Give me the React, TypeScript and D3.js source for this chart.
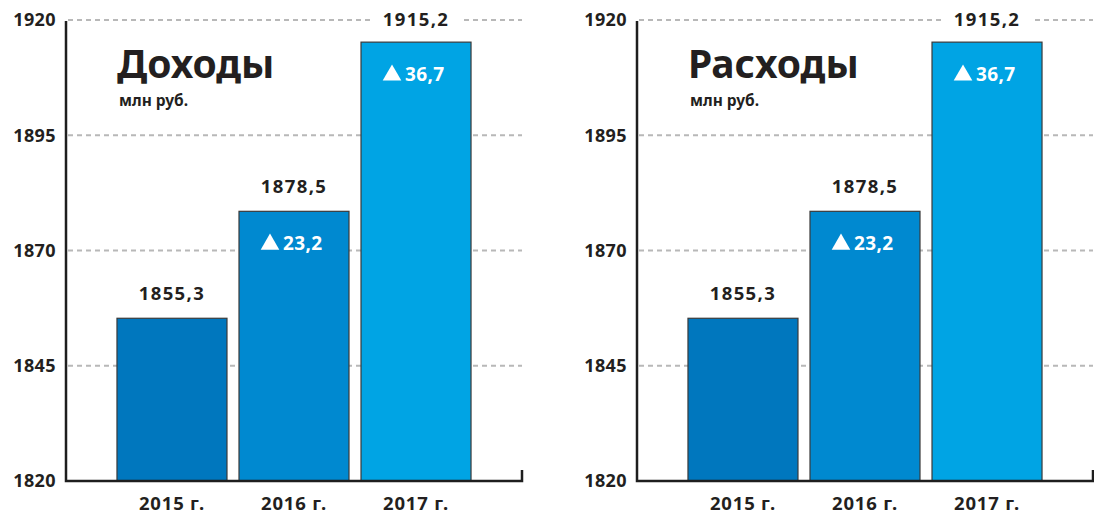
import React from "react";
import * as d3 from "d3";

const years = ["2015 г.", "2016 г.", "2017 г."];
const incomeValues = [1855.3, 1878.5, 1915.2];
const expenseValues = [1855.3, 1878.5, 1915.2];
const incomeDeltas = [null, "23,2", "36,7"];
const expenseDeltas = [null, "23,2", "36,7"];
const yTicks = [1820, 1845, 1870, 1895, 1920];
const barColors = ["#0077be", "#0089d0", "#00a4e4"];
const panelTitles = ["Доходы", "Расходы"];
const unitLabel = "млн руб.";

const W = 1094;
const H = 515;
const FONT = "'Noto Sans', 'Open Sans', sans-serif";
const TEXT = "#231f20";

const fmt = (v: number) => v.toFixed(1).replace(".", ",");

function Panel({ offsetX, title, values, deltas }: { offsetX: number; title: string; values: number[]; deltas: (string | null)[] }) {
  const axisX = 66;
  const rightX = 522;
  const y = d3.scaleLinear().domain([1820, 1920]).range([481, 20]);
  const x = d3.scaleBand<string>().domain(years).range([111, 477]).paddingInner(0.0984).paddingOuter(0.049);
  const tri = d3.symbol().type(d3.symbolTriangle).size(150)();
  return (
    <g transform={`translate(${offsetX},0)`}>
      {yTicks.slice(1).map((t) => (
        <line key={t} x1={axisX + 2} x2={rightX} y1={y(t)} y2={y(t)} stroke="#b8b8b8" strokeWidth={2} strokeDasharray="5,4" />
      ))}
      {yTicks.map((t) => (
        <text key={t} x={56} y={y(t)} dy="0.35em" textAnchor="end" fontFamily={FONT} fontWeight={700} fontSize={18} letterSpacing={0.4} fill={TEXT}>{t}</text>
      ))}
      <text x={117} y={78} fontFamily={FONT} fontWeight={700} fontSize={39} fill={TEXT}>{title}</text>
      <text x={119} y={106} fontFamily={FONT} fontWeight={700} fontSize={15.5} fill={TEXT}>{unitLabel}</text>
      {values.map((v, i) => {
        const bx = x(years[i])!;
        const bw = x.bandwidth();
        const cx = bx + bw / 2;
        const top = y(v);
        const labelY = Math.max(top - 25, y(1920));
        return (
          <g key={i}>
            <rect x={bx} y={top} width={bw} height={y(1820) - top} fill={barColors[i]} stroke="#3a3a3a" strokeWidth={1.2} />
            <rect x={cx - 45} y={labelY - 12} width={90} height={24} fill="#fff" />
            <text x={cx} y={labelY} dy="0.35em" textAnchor="middle" fontFamily={FONT} fontWeight={700} fontSize={18.5} letterSpacing={1.4} fill={TEXT}>{fmt(v)}</text>
            {deltas[i] && (
              <g>
                <path d={tri!} transform={`translate(${cx - 24},${top + 33})`} fill="#fff" />
                <text x={cx - 11} y={top + 32} dy="0.35em" fontFamily={FONT} fontWeight={700} fontSize={19} letterSpacing={0.4} fill="#fff">{deltas[i]}</text>
              </g>
            )}
            <text x={cx} y={510} textAnchor="middle" fontFamily={FONT} fontWeight={700} fontSize={18.5} letterSpacing={0.8} fill={TEXT}>{years[i]}</text>
          </g>
        );
      })}
      <path d={`M${axisX},${y(1920) + 1}V${y(1820)}H${rightX}V${y(1820) - 11}`} fill="none" stroke="#1e1e1e" strokeWidth={2.5} />
    </g>
  );
}

export default function App() {
  return (
    <svg width={W} height={H} style={{ position: "absolute", left: 0, top: 0, background: "#fff" }}>
      <Panel offsetX={0} title={panelTitles[0]} values={incomeValues} deltas={incomeDeltas} />
      <Panel offsetX={571} title={panelTitles[1]} values={expenseValues} deltas={expenseDeltas} />
    </svg>
  );
}
